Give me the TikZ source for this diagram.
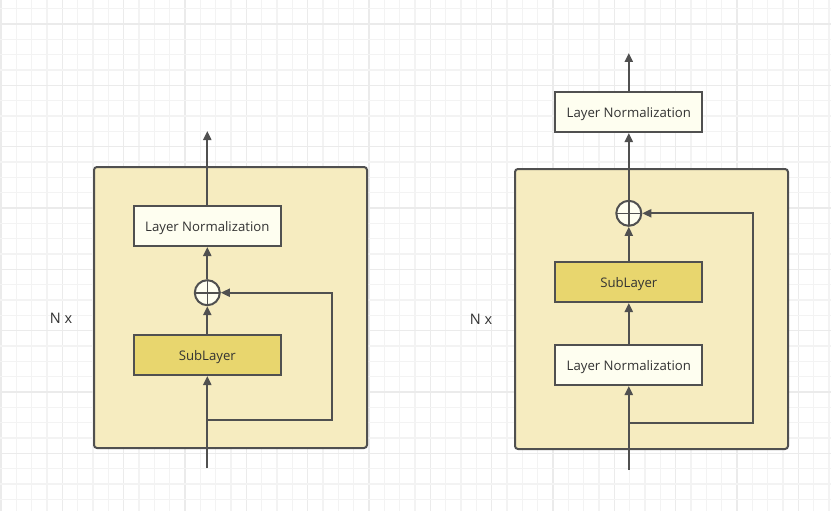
\documentclass[tikz,border=0pt]{standalone}
\usepackage{fontspec}
\setmainfont{Open Sans}
\usetikzlibrary{arrows.meta}
\definecolor{gridminor}{HTML}{F3F3F3}
\definecolor{gridmajor}{HTML}{EBEBEB}
\definecolor{outerfill}{HTML}{F6ECC0}
\definecolor{subfill}{HTML}{E8D66E}
\definecolor{lnfill}{HTML}{FEFEF0}
\definecolor{stroke}{HTML}{505050}
\definecolor{txt}{HTML}{333333}
\tikzset{
  outerbox/.style={draw=stroke, fill=outerfill, line width=2pt, rounded corners=3pt, minimum width=273pt, minimum height=281pt, inner sep=0pt},
  lnbox/.style={draw=stroke, fill=lnfill, line width=2pt, minimum width=147pt, minimum height=40pt, inner sep=0pt, text=txt, text depth=0pt, font=\fontsize{13.2}{15}\selectfont},
  subbox/.style={lnbox, fill=subfill},
  addnode/.style={draw=stroke, fill=lnfill, circle, line width=2pt, minimum size=25pt, inner sep=0pt,
    path picture={\draw[stroke, line width=1.6pt] (path picture bounding box.north) -- (path picture bounding box.south) (path picture bounding box.west) -- (path picture bounding box.east);}},
  conn/.style={draw=stroke, line width=2pt},
  arr/.style={conn, -{Triangle[length=9pt,width=8pt]}},
  nlabel/.style={text=txt, font=\fontsize{14.5}{16}\selectfont}
}
\begin{document}
\begin{tikzpicture}[x=1pt,y=-1pt]
\useasboundingbox (0,0) rectangle (831,511);
\fill[white] (0,0) rectangle (831,511);
% grid
\foreach \i in {0,...,54} {
  \pgfmathsetmacro{\xx}{1+15.333*\i}
  \pgfmathtruncatemacro{\m}{mod(\i,4)}
  \ifnum\m=0
    \draw[gridmajor, line width=1.4pt] (\xx,0) -- (\xx,511);
  \else
    \draw[gridminor, line width=1.2pt] (\xx,0) -- (\xx,511);
  \fi
}
\foreach \i in {-1,...,32} {
  \pgfmathsetmacro{\yy}{24+15.333*\i}
  \pgfmathtruncatemacro{\m}{mod(\i+4,4)}
  \ifnum\m=0
    \draw[gridmajor, line width=1.4pt] (0,\yy) -- (831,\yy);
  \else
    \draw[gridminor, line width=1.2pt] (0,\yy) -- (831,\yy);
  \fi
}

% ---------- Left block ----------
\node[outerbox] (outerL) at (230.5,307.5) {};
\node[lnbox] (lnL) at (207.3,226) {Layer Normalization};
\node[subbox] (subL) at (207.3,355) {SubLayer};
\node[addnode] (addL) at (207.3,292.7) {};
\node[nlabel] (nL) at (61,318) {N x};
\coordinate (inL) at (207.3,468);
\coordinate (topL) at (207.3,131);
\coordinate (loopL1) at (207.3,420);
\coordinate (loopL2) at (331.5,292.7);
\draw[arr] (inL) -- (subL.south);
\draw[arr] (subL.north) -- (addL.south);
\draw[arr] (addL.north) -- (lnL.south);
\draw[arr] (lnL.north) -- (topL);
\draw[arr] (loopL1) -| (loopL2) -- (addL.east);

% ---------- Right block ----------
\node[outerbox, minimum height=280pt] (outerR) at (651.5,309) {};
\node[lnbox] (lnTop) at (628.8,112) {Layer Normalization};
\node[subbox] (subR) at (628.8,282) {SubLayer};
\node[lnbox] (lnR) at (628.8,365) {Layer Normalization};
\node[addnode] (addR) at (628.8,213.3) {};
\node[nlabel] (nR) at (481,319) {N x};
\coordinate (inR) at (628.8,470);
\coordinate (topR) at (628.8,53);
\coordinate (loopR1) at (628.8,422.7);
\coordinate (loopR2) at (752.5,213.3);
\draw[arr] (inR) -- (lnR.south);
\draw[arr] (lnR.north) -- (subR.south);
\draw[arr] (subR.north) -- (addR.south);
\draw[arr] (addR.north) -- (lnTop.south);
\draw[arr] (lnTop.north) -- (topR);
\draw[arr] (loopR1) -| (loopR2) -- (addR.east);
\end{tikzpicture}
\end{document}
